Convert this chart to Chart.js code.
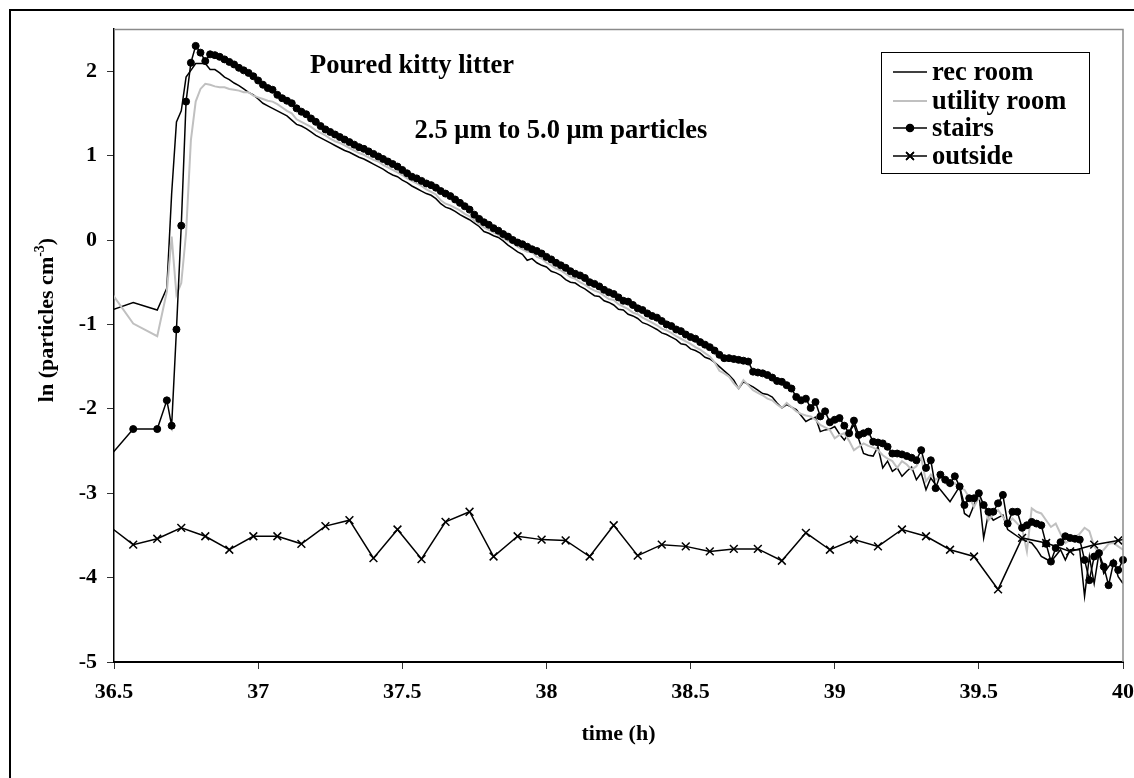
<!DOCTYPE html>
<html>
<head>
<meta charset="utf-8">
<script src="https://cdn.jsdelivr.net/npm/chart.js@4.4.1/dist/chart.umd.min.js"></script>
<style>
html,body{margin:0;padding:0;background:#fff;overflow:hidden}
#wrap{position:relative;width:1134px;height:778px}
</style>
</head>
<body>
<div id="wrap"><canvas id="c" width="1134" height="778"></canvas></div>
<script>
// ---------- DATA ----------
const startHour = 36.5; // time origin, hours; sample times below are minutes after it

const indoorMinutes = [-1,4,9,11,12,13,14,15,16,17,18,19,20,
21,22,23,24,25,26,27,28,29,30,
31,32,33,34,35,36,37,38,39,40,
41,42,43,44,45,46,47,48,49,50,
51,52,53,54,55,56,57,58,59,60,
61,62,63,64,65,66,67,68,69,70,
71,72,73,74,75,76,77,78,79,80,
81,82,83,84,85,86,87,88,89,90,
91,92,93,94,95,96,97,98,99,100,
101,102,103,104,105,106,107,108,109,110,
111,112,113,114,115,116,117,118,119,120,
121,122,123,124,125,126,127,128,129,130,
131,132,133,134,135,136,137,138,139,140,
141,142,143,144,145,146,147,148,149,150,
151,152,153,154,155,156,157,158,159,160,
161,162,163,164,165,166,167,168,169,170,
171,172,173,174,175,176,177,178,179,180,
181,182,183,184,185,186,187,188,189,190,
191,192,193,194,195,196,197,198,199,200,
201,202,203,204,205,206,207,208,209,210];

const recRoom = [-0.84,-0.74,-0.83,-0.57,0.55,1.40,1.53,1.93,2.01,2.09,2.09,2.09,2.02,
2.02,1.98,1.93,1.90,1.86,1.83,1.79,1.75,1.72,1.67,
1.62,1.59,1.56,1.53,1.50,1.47,1.42,1.37,1.35,1.32,
1.28,1.24,1.21,1.18,1.15,1.12,1.09,1.06,1.04,1.01,
0.98,0.96,0.93,0.90,0.87,0.84,0.80,0.77,0.75,0.71,
0.68,0.64,0.61,0.58,0.55,0.53,0.49,0.43,0.39,0.37,
0.34,0.30,0.27,0.24,0.20,0.16,0.10,0.08,0.05,0.03,
-0.01,-0.06,-0.10,-0.14,-0.17,-0.24,-0.22,-0.27,-0.30,-0.32,
-0.37,-0.39,-0.42,-0.47,-0.50,-0.51,-0.55,-0.58,-0.62,-0.66,
-0.67,-0.72,-0.74,-0.77,-0.82,-0.83,-0.88,-0.90,-0.93,-0.98,
-1.00,-1.03,-1.06,-1.10,-1.12,-1.15,-1.18,-1.23,-1.24,-1.29,
-1.31,-1.34,-1.39,-1.41,-1.45,-1.50,-1.55,-1.60,-1.66,-1.76,
-1.68,-1.71,-1.74,-1.78,-1.82,-1.83,-1.86,-1.93,-1.99,-1.95,
-1.98,-2.01,-2.08,-2.15,-2.12,-2.10,-2.27,-2.25,-2.24,-2.21,
-2.30,-2.37,-2.28,-2.19,-2.36,-2.53,-2.55,-2.56,-2.45,-2.70,
-2.62,-2.74,-2.70,-2.80,-2.74,-2.69,-2.84,-2.76,-2.96,-2.82,
-2.90,-2.96,-3.03,-3.10,-3.01,-2.92,-3.24,-3.28,-3.14,-3.00,
-3.53,-3.24,-3.32,-3.29,-3.26,-3.43,-3.47,-3.51,-3.55,-3.57,
-3.59,-3.66,-3.75,-3.78,-3.81,-3.74,-3.67,-3.79,-3.67,-3.67,
-3.67,-4.22,-3.75,-4.07,-3.71,-3.95,-3.87,-3.79,-3.99,-4.07];

const utilityRoom = [-0.59,-0.99,-1.14,-0.61,0.04,-0.65,-0.51,0.08,1.18,1.64,1.79,1.85,1.84,
1.82,1.81,1.81,1.79,1.78,1.77,1.75,1.75,1.71,1.69,
1.67,1.65,1.64,1.61,1.57,1.53,1.50,1.43,1.40,1.37,
1.34,1.30,1.27,1.24,1.20,1.17,1.15,1.12,1.09,1.06,
1.03,1.01,0.98,0.95,0.93,0.89,0.86,0.83,0.80,0.77,
0.73,0.70,0.67,0.64,0.60,0.57,0.54,0.47,0.43,0.41,
0.38,0.35,0.31,0.28,0.23,0.19,0.15,0.12,0.09,0.06,
0.02,-0.01,-0.04,-0.08,-0.11,-0.14,-0.14,-0.20,-0.22,-0.27,
-0.30,-0.34,-0.36,-0.40,-0.44,-0.46,-0.50,-0.53,-0.57,-0.60,
-0.62,-0.66,-0.70,-0.71,-0.76,-0.79,-0.82,-0.86,-0.88,-0.92,
-0.95,-0.98,-1.01,-1.05,-1.07,-1.10,-1.14,-1.17,-1.20,-1.23,
-1.27,-1.30,-1.34,-1.38,-1.45,-1.55,-1.58,-1.62,-1.70,-1.76,
-1.66,-1.72,-1.78,-1.81,-1.84,-1.88,-1.90,-1.95,-1.99,-1.93,
-1.98,-2.03,-2.06,-2.08,-2.09,-2.13,-2.19,-2.22,-2.25,-2.35,
-2.31,-2.29,-2.38,-2.49,-2.45,-2.41,-2.44,-2.46,-2.49,-2.55,
-2.59,-2.62,-2.70,-2.62,-2.66,-2.72,-2.68,-2.58,-2.86,-2.78,
-2.84,-2.80,-2.88,-2.92,-2.88,-2.94,-2.96,-3.05,-3.16,-3.05,
-3.12,-3.32,-3.25,-3.20,-3.28,-3.36,-3.30,-3.36,-3.42,-3.69,
-3.18,-3.22,-3.24,-3.32,-3.40,-3.36,-3.48,-3.59,-3.55,-3.52,
-3.48,-3.41,-3.45,-3.63,-3.71,-3.67,-3.60,-3.59,-3.63,-3.67];

const stairs = [-2.57,-2.24,-2.24,-1.90,-2.20,-1.06,0.17,1.64,2.10,2.30,2.22,2.12,2.20,
2.19,2.17,2.14,2.11,2.08,2.04,2.01,1.98,1.94,1.89,
1.84,1.80,1.78,1.72,1.68,1.65,1.62,1.56,1.52,1.49,
1.44,1.40,1.35,1.31,1.28,1.25,1.22,1.19,1.16,1.13,
1.10,1.08,1.05,1.02,0.99,0.96,0.93,0.90,0.87,0.83,
0.79,0.75,0.73,0.70,0.67,0.65,0.62,0.58,0.55,0.52,
0.48,0.44,0.40,0.36,0.30,0.25,0.21,0.18,0.14,0.11,
0.07,0.04,0.00,-0.03,-0.05,-0.08,-0.11,-0.13,-0.16,-0.20,
-0.23,-0.27,-0.30,-0.33,-0.37,-0.40,-0.42,-0.45,-0.50,-0.52,
-0.55,-0.59,-0.62,-0.64,-0.68,-0.72,-0.73,-0.77,-0.81,-0.83,
-0.87,-0.90,-0.92,-0.96,-1.00,-1.02,-1.06,-1.08,-1.12,-1.15,
-1.17,-1.21,-1.24,-1.27,-1.31,-1.36,-1.40,-1.40,-1.41,-1.42,
-1.43,-1.44,-1.56,-1.57,-1.58,-1.60,-1.63,-1.67,-1.68,-1.72,
-1.76,-1.86,-1.90,-1.88,-1.99,-1.92,-2.09,-2.03,-2.16,-2.13,
-2.11,-2.20,-2.29,-2.14,-2.31,-2.29,-2.27,-2.39,-2.40,-2.41,
-2.45,-2.53,-2.53,-2.54,-2.56,-2.58,-2.61,-2.49,-2.70,-2.61,
-2.94,-2.78,-2.84,-2.88,-2.80,-2.92,-3.14,-3.06,-3.06,-3.00,
-3.14,-3.22,-3.22,-3.12,-3.02,-3.36,-3.22,-3.22,-3.41,-3.38,
-3.34,-3.36,-3.38,-3.60,-3.81,-3.65,-3.58,-3.51,-3.53,-3.54,
-3.55,-3.79,-4.03,-3.75,-3.71,-3.87,-4.09,-3.83,-3.91,-3.79];

const outsideMinutes = [-1,4,9,14,19,24,29,34,39,44,
49,54,59,64,69,74,79,84,89,94,
99,104,109,114,119,124,129,134,139,144,
149,154,159,164,169,174,179,184,189,194,
199,204,209,214];

const outside = [-3.39,-3.61,-3.54,-3.41,-3.51,-3.67,-3.51,-3.51,-3.60,-3.39,
-3.32,-3.77,-3.43,-3.78,-3.34,-3.22,-3.75,-3.51,-3.55,-3.56,
-3.75,-3.38,-3.74,-3.61,-3.63,-3.69,-3.66,-3.66,-3.80,-3.47,
-3.67,-3.55,-3.63,-3.43,-3.51,-3.67,-3.75,-4.14,-3.53,-3.59,
-3.69,-3.61,-3.56,-3.50];

const seriesLabels = ['rec room','utility room','stairs','outside'];
const xTicks = [36.5,37,37.5,38,38.5,39,39.5,40];
const yTicks = [-5,-4,-3,-2,-1,0,1,2];
const xRange = [36.5, 40];
const yRange = [-5, 2.5];

const chartTitle = 'Poured kitty litter';
const chartSubtitle = '2.5 \u03bcm to 5.0 \u03bcm particles';
const xAxisTitle = 'time (h)';
const yAxisTitleMain = 'ln (particles cm';
const yAxisTitleSup = '-3';
const yAxisTitleEnd = ')';

// ---------- CHART ----------
const FONT = "'Liberation Serif','Times New Roman',serif";
const toPoints = (mins, vals) => mins.map((m, i) => ({x: startHour + m / 60, y: vals[i]}));

const decor = {
  id: 'decor',
  beforeDraw(chart) {
    const ctx = chart.ctx;
    ctx.save();
    ctx.fillStyle = '#fff';
    ctx.fillRect(0, 0, chart.width, chart.height);
    ctx.strokeStyle = '#000';
    ctx.lineWidth = 2;
    ctx.strokeRect(10, 10, chart.width + 40, chart.height + 40);
    ctx.restore();
  },
  afterDraw(chart) {
    const ctx = chart.ctx, a = chart.chartArea;
    ctx.save();
    // top and right frame of plot area
    ctx.strokeStyle = '#8a8a8a';
    ctx.lineWidth = 1.5;
    ctx.beginPath();
    ctx.moveTo(a.left, a.top + 0.5);
    ctx.lineTo(a.right, a.top + 0.5);
    ctx.lineTo(a.right, a.bottom);
    ctx.stroke();

    ctx.fillStyle = '#000';
    ctx.textAlign = 'center';
    ctx.textBaseline = 'middle';
    ctx.font = 'bold 26.5px ' + FONT;
    ctx.fillText(chartTitle, 412, 66);
    ctx.fillText(chartSubtitle, 561, 131);

    ctx.font = 'bold 22px ' + FONT;
    ctx.fillText(xAxisTitle, (a.left + a.right) / 2, 734);

    // y axis title with superscript
    ctx.save();
    ctx.translate(46, 320);
    ctx.rotate(-Math.PI / 2);
    ctx.textAlign = 'left';
    ctx.textBaseline = 'alphabetic';
    ctx.font = 'bold 22px ' + FONT;
    const w1 = ctx.measureText(yAxisTitleMain).width;
    const w3 = ctx.measureText(yAxisTitleEnd).width;
    ctx.font = 'bold 14px ' + FONT;
    const w2 = ctx.measureText(yAxisTitleSup).width;
    const total = w1 + w2 + w3;
    let x0 = -total / 2;
    const base = 7;
    ctx.font = 'bold 22px ' + FONT;
    ctx.fillText(yAxisTitleMain, x0, base);
    ctx.font = 'bold 14px ' + FONT;
    ctx.fillText(yAxisTitleSup, x0 + w1, base - 9);
    ctx.font = 'bold 22px ' + FONT;
    ctx.fillText(yAxisTitleEnd, x0 + w1 + w2, base);
    ctx.restore();

    // legend
    ctx.strokeStyle = '#000';
    ctx.lineWidth = 1;
    ctx.strokeRect(881.5, 52.5, 208, 121);
    const rows = [72, 101, 128, 156];
    chart.data.datasets.forEach((ds, i) => {
      const y = rows[i];
      ctx.strokeStyle = ds.borderColor;
      ctx.lineWidth = ds.borderWidth;
      ctx.beginPath();
      ctx.moveTo(893, y);
      ctx.lineTo(927, y);
      ctx.stroke();
      if (ds.pointRadius > 0) {
        Chart.helpers.drawPoint(ctx, {
          pointStyle: ds.pointStyle, radius: ds.pointRadius, rotation: 0,
          borderWidth: ds.pointBorderWidth
        }, 910, y);
        ctx.fillStyle = ds.pointBackgroundColor || '#000';
        ctx.strokeStyle = ds.pointBorderColor || '#000';
        ctx.lineWidth = ds.pointBorderWidth;
        if (ds.pointStyle === 'circle') ctx.fill();
        ctx.stroke();
      }
      ctx.fillStyle = '#000';
      ctx.textAlign = 'left';
      ctx.textBaseline = 'alphabetic';
      ctx.font = 'bold 26.5px ' + FONT;
      ctx.fillText(ds.label, 932, y + 8);
    });
    ctx.restore();
  }
};

const tickFont = {family: FONT, size: 22, weight: 'bold'};

new Chart(document.getElementById('c'), {
  type: 'line',
  data: {
    datasets: [
      {label: seriesLabels[0], data: toPoints(indoorMinutes, recRoom), borderColor: '#000000', borderWidth: 1.5,
       pointRadius: 0, tension: 0, order: 4, clip: {left: 0, top: 0, right: 0, bottom: 0}},
      {label: seriesLabels[1], data: toPoints(indoorMinutes, utilityRoom), borderColor: '#c0c0c0', borderWidth: 2,
       pointRadius: 0, tension: 0, order: 3, clip: {left: 0, top: 0, right: 0, bottom: 0}},
      {label: seriesLabels[2], data: toPoints(indoorMinutes, stairs), borderColor: '#000000', borderWidth: 1.5,
       pointStyle: 'circle', pointRadius: 3.5, pointBorderWidth: 1, pointBackgroundColor: '#000', pointBorderColor: '#000',
       tension: 0, order: 2, clip: {left: 0, top: 4, right: 4, bottom: 4}},
      {label: seriesLabels[3], data: toPoints(outsideMinutes, outside), borderColor: '#000000', borderWidth: 1.5,
       pointStyle: 'crossRot', pointRadius: 5.5, pointBorderWidth: 1.5, pointBackgroundColor: '#000', pointBorderColor: '#000',
       tension: 0, order: 1, clip: {left: 0, top: 4, right: 0, bottom: 4}}
    ]
  },
  options: {
    responsive: false,
    animation: false,
    devicePixelRatio: 1,
    layout: {padding: {top: 29, right: 0, left: 0, bottom: 0}},
    plugins: {legend: {display: false}, tooltip: {enabled: false}, title: {display: false}},
    scales: {
      x: {
        type: 'linear', min: xRange[0], max: xRange[1],
        afterBuildTicks: s => { s.ticks = xTicks.map(v => ({value: v})); },
        afterFit: s => { s.height = 116; s.paddingLeft = 0; s.paddingRight = 11; },
        ticks: {font: tickFont, color: '#000', padding: 10, maxRotation: 0, autoSkip: false, callback: v => String(v)},
        grid: {drawOnChartArea: false, drawTicks: true, tickLength: 7, color: '#333', lineWidth: 1},
        border: {display: true, color: '#000', width: 2}
      },
      y: {
        type: 'linear', min: yRange[0], max: yRange[1],
        afterBuildTicks: s => { s.ticks = yTicks.map(v => ({value: v})); },
        afterFit: s => { s.width = 114; s.paddingTop = 0; s.paddingBottom = 0; },
        ticks: {font: tickFont, color: '#000', padding: 10, autoSkip: false, callback: v => String(v)},
        grid: {drawOnChartArea: false, drawTicks: true, tickLength: 7, color: '#333', lineWidth: 1},
        border: {display: true, color: '#000', width: 1.5}
      }
    }
  },
  plugins: [decor]
});
</script>
</body>
</html>
